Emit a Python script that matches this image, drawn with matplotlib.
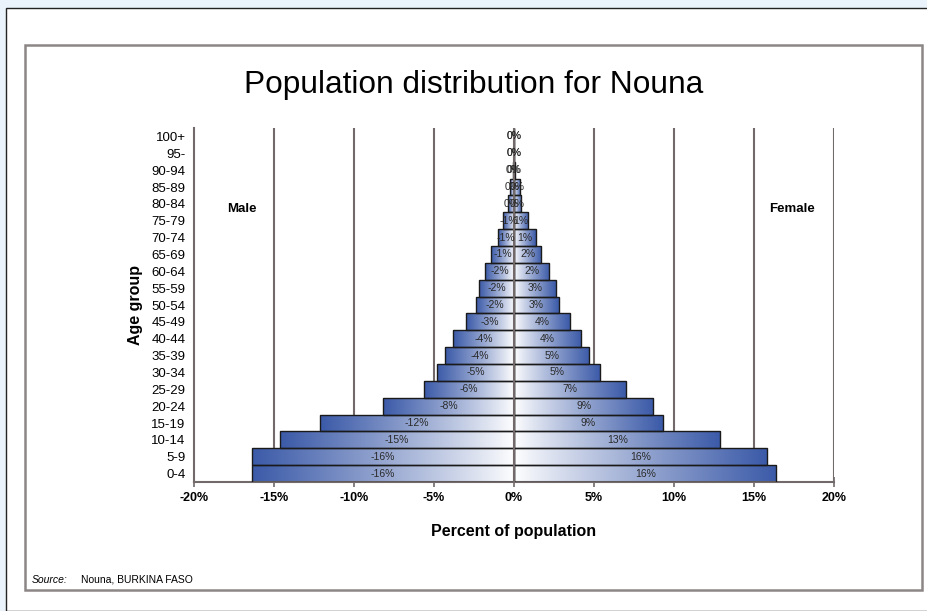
import numpy as np
import matplotlib
matplotlib.use("Agg")
import matplotlib.pyplot as plt
from matplotlib.patches import Rectangle

plt.rcParams["font.family"] = ["Liberation Sans", "DejaVu Sans"]

age_groups = ["0-4", "5-9", "10-14", "15-19", "20-24", "25-29", "30-34", "35-39",
              "40-44", "45-49", "50-54", "55-59", "60-64", "65-69", "70-74",
              "75-79", "80-84", "85-89", "90-94", "95-", "100+"]
male = [-16.4, -16.4, -14.6, -12.1, -8.2, -5.6, -4.8, -4.3, -3.8, -3.0, -2.4,
        -2.2, -1.8, -1.45, -1.0, -0.7, -0.4, -0.25, -0.05, -0.03, -0.02]
female = [16.4, 15.8, 12.9, 9.3, 8.7, 7.0, 5.4, 4.7, 4.2, 3.5, 2.8,
          2.6, 2.2, 1.7, 1.35, 0.9, 0.45, 0.4, 0.05, 0.03, 0.02]
xticks = [-20, -15, -10, -5, 0, 5, 10, 15, 20]

BLUE = np.array([0x3b, 0x5a, 0xa8]) / 255.0
GRID = "#726a6a"


def gradient(n=256):
    t = np.linspace(0, 1, n) ** 0.9
    rgb = (1 - t)[:, None] * np.ones(3) + t[:, None] * BLUE
    return rgb[None, :, :]


def draw_side(ax, values):
    y = np.arange(len(values))
    bars = ax.barh(y, values, height=1.0, facecolor="none", edgecolor="#1a1a1a",
                   linewidth=1.0, zorder=3)
    grad = gradient()
    for yi, v, bar in zip(y, values, bars):
        img = grad if v >= 0 else grad[:, ::-1, :]
        lo, hi = min(0, v), max(0, v)
        im = ax.imshow(img, extent=[lo, hi, yi - 0.5, yi + 0.5], aspect="auto",
                       zorder=2, interpolation="bilinear")
        im.set_clip_path(bar)
        ax.text(v / 2, yi, f"{int(round(v))}%", ha="center", va="center",
                fontsize=7.5, color="#2a2a2a", zorder=5)


def main():
    fig = plt.figure(figsize=(9.28, 6.11), dpi=100)
    fig.patch.set_facecolor("#eaf3fb")
    W, H = 928.0, 611.0
    # white panel and gray frame
    fig.patches.append(Rectangle((6 / W, 0), 1.0, 1 - 8 / H, transform=fig.transFigure,
                                 facecolor="white", edgecolor="#222222", linewidth=1.0, zorder=0))
    fig.patches.append(Rectangle((25 / W, 1 - 590 / H), (922 - 25) / W, (590 - 45) / H,
                                 transform=fig.transFigure, facecolor="white",
                                 edgecolor="#8c8686", linewidth=1.8, zorder=1))

    ax = fig.add_axes([194 / W, 1 - 482 / H, 640 / W, 354 / H])
    ax.set_facecolor("none")
    ax.set_zorder(2)

    for x in xticks[1:]:
        ax.axvline(x, color=GRID, linewidth=1.5, zorder=4 if x == 0 else 1)

    draw_side(ax, male)
    draw_side(ax, female)

    ax.set_xlim(-20, 20)
    ax.set_ylim(-0.5, len(age_groups) - 0.5)
    ax.set_xticks(xticks)
    ax.set_xticklabels([f"{x}%" for x in xticks], fontsize=9, fontweight="bold")
    ax.set_yticks(range(len(age_groups)))
    ax.set_yticklabels(age_groups, fontsize=9.5)
    ax.tick_params(axis="x", direction="inout", length=7, width=1.2, color=GRID, pad=4)
    ax.tick_params(axis="y", length=0, pad=6)
    for s in ["top", "right"]:
        ax.spines[s].set_visible(False)
    for s in ["left", "bottom"]:
        ax.spines[s].set_color(GRID)
        ax.spines[s].set_linewidth(1.5)

    ax.set_xlabel("Percent of population", fontsize=11.5, fontweight="bold", labelpad=14)
    ax.set_ylabel("Age group", fontsize=11.5, fontweight="bold", labelpad=6)

    ax.text(-17, 15.7, "Male", ha="center", va="center", fontsize=9.5, fontweight="bold")
    ax.text(17.4, 15.7, "Female", ha="center", va="center", fontsize=9.5, fontweight="bold")

    fig.text(474 / W, 1 - 85 / H, "Population distribution for Nouna", ha="center",
             va="center", fontsize=22.8)
    fig.text(32 / W, 1 - 580 / H, "Source:", fontsize=7.5, style="italic", va="center")
    fig.text(81 / W, 1 - 580 / H, "Nouna, BURKINA FASO", fontsize=7.5, va="center")

    fig.savefig("out.png", dpi=100, facecolor=fig.get_facecolor())


if __name__ == "__main__":
    main()
